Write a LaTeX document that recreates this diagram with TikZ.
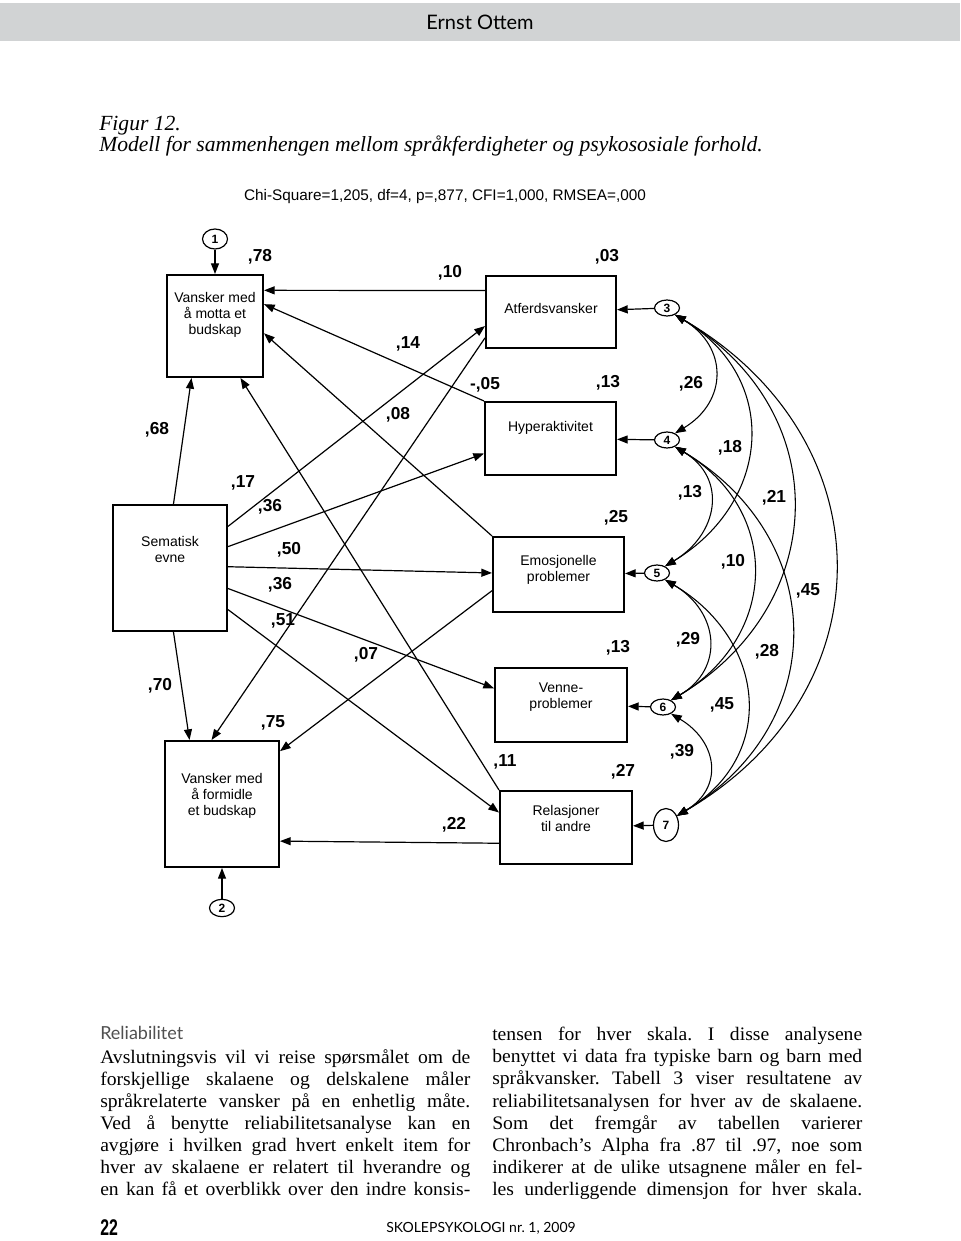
\documentclass[tikz,border=0pt]{standalone}
\usepackage{fontspec}
\usepackage{xcolor}
\usepackage{tikz}
\usetikzlibrary{arrows.meta,shapes.geometric,calc}

\setmainfont{Liberation Serif}
\setsansfont{Liberation Sans}
\newfontfamily\gillfont{Lato}
\newfontfamily\folionum[FakeStretch=0.7]{Liberation Sans}
\newfontfamily\bodyfont[FakeStretch=1.03]{Liberation Serif}
\frenchspacing

\definecolor{bandgray}{RGB}{209,211,212}
\definecolor{headgray}{RGB}{80,80,80}

\tikzset{
	box/.style={draw, line width=1.5pt, inner sep=0pt},
	boxtext/.style={font=\sffamily\fontsize{10.5}{12}\selectfont, align=center, inner sep=0pt},
	coef/.style={font=\sffamily\bfseries\fontsize{13}{13}\selectfont, inner sep=0pt},
	resid/.style={draw, ellipse, line width=0.9pt, inner sep=0pt, minimum width=18.75pt, minimum height=12pt, font=\sffamily\bfseries\fontsize{9}{9}\selectfont},
	regarrow/.style={line width=0.9pt, -{Triangle[length=8pt,width=6pt]}},
	covar/.style={line width=0.8pt, {Triangle[length=8pt,width=6pt]}-{Triangle[length=8pt,width=6pt]}},
	column/.style={anchor=north west, inner sep=0pt, text width=277.5pt, align=justify, font=\bodyfont\fontsize{14.3}{16.6}\selectfont},
}

\begin{document}
\begin{tikzpicture}[x=0.75pt,y=0.75pt,yscale=-1,xscale=1]
	\useasboundingbox (0,0) rectangle (960,1241);
	
	%Page head
	\fill[bandgray] (0,3) rectangle (960,41);
	\node[font=\gillfont\fontsize{15}{15}\selectfont] (author) at (480,22) {Ernst Ottem};
	
	% Text Node
	\node[anchor=north west, inner sep=0pt, align=left, font=\itshape\fontsize{16.2}{15.5}\selectfont] (caption) at (99,116) {Figur 12.\\Modell for sammenhengen mellom språkferdigheter og psykososiale forhold.};
	% Text Node
	\node[font=\sffamily\fontsize{11.5}{11.5}\selectfont] (fit) at (445,197) {Chi-Square=1,205, df=4, p=,877, CFI=1,000, RMSEA=,000};
	
	%Boxes
	\node[box, minimum width=72pt, minimum height=76.5pt] (motta) at (215,326) {};
	\node[box, minimum width=97.5pt, minimum height=54pt] (atferd) at (551,312) {};
	\node[box, minimum width=98.25pt, minimum height=54.75pt] (hyper) at (550.5,438.5) {};
	\node[box, minimum width=85.5pt, minimum height=94.5pt] (sematisk) at (170,568) {};
	\node[box, minimum width=98.25pt, minimum height=56.25pt] (emosjon) at (558.5,574.5) {};
	\node[box, minimum width=99pt, minimum height=55.5pt] (venne) at (561,705) {};
	\node[box, minimum width=99pt, minimum height=54.75pt] (relasjon) at (566,827.5) {};
	\node[box, minimum width=85.5pt, minimum height=94.5pt] (formidle) at (222,804) {};
	
	% Text Node
	\node[boxtext] (mottatxt) at (215,315) {Vansker med\\å motta et\\budskap};
	\node[boxtext] (atferdtxt) at (551,308) {Atferdsvansker};
	\node[boxtext] (hypertxt) at (550.5,428) {Hyperaktivitet};
	\node[boxtext] (sematisktxt) at (170,549) {Sematisk\\evne};
	\node[boxtext] (emosjontxt) at (558.5,570) {Emosjonelle\\problemer};
	\node[boxtext] (vennetxt) at (561,697) {Venne-\\problemer};
	\node[boxtext] (relasjontxt) at (566,818) {Relasjoner\\til andre};
	\node[boxtext] (formidletxt) at (222,796) {Vansker med\\å formidle\\et budskap};
	
	%Residuals
	\node[resid, minimum height=15pt] (e1) at (215,239) {1};
	\node[resid, minimum height=13pt] (e2) at (222,908) {2};
	\node[resid] (e3) at (667,308) {3};
	\node[resid] (e4) at (667,440) {4};
	\node[resid] (e5) at (657,573) {5};
	\node[resid] (e6) at (663,707) {6};
	\node[resid, minimum height=24.75pt] (e7) at (666,825) {7};
	
	%Straight Lines
	\draw[regarrow] (e1) -- (motta);
	\draw[regarrow] (e2) -- (formidle);
	\draw[regarrow] (e3) -- (atferd);
	\draw[regarrow] (e4) -- (hyper);
	\draw[regarrow] (e5) -- (emosjon);
	\draw[regarrow] (e6) -- (venne);
	\draw[regarrow] (e7) -- (relasjon);
	
	%Straight Lines
	\draw[regarrow] ($(sematisk.north west)!0.53!(sematisk.north east)$) -- ($(motta.south west)!0.26!(motta.south east)$);
	\draw[regarrow] ($(sematisk.south west)!0.53!(sematisk.south east)$) -- ($(formidle.north west)!0.22!(formidle.north east)$);
	\draw[regarrow] ($(sematisk.north east)!0.175!(sematisk.south east)$) -- ($(atferd.north west)!0.69!(atferd.south west)$);
	\draw[regarrow] ($(sematisk.north east)!0.333!(sematisk.south east)$) -- ($(hyper.north west)!0.70!(hyper.south west)$);
	\draw[regarrow] ($(sematisk.north east)!0.49!(sematisk.south east)$) -- ($(emosjon.north west)!0.48!(emosjon.south west)$);
	\draw[regarrow] ($(sematisk.north east)!0.66!(sematisk.south east)$) -- ($(venne.north west)!0.28!(venne.south west)$);
	\draw[regarrow] ($(sematisk.north east)!0.825!(sematisk.south east)$) -- ($(relasjon.north west)!0.30!(relasjon.south west)$);
	
	%Straight Lines
	\draw[regarrow] ($(atferd.north west)!0.21!(atferd.south west)$) -- ($(motta.north east)!0.157!(motta.south east)$);
	\draw[regarrow] (hyper.north west) -- ($(motta.north east)!0.29!(motta.south east)$);
	\draw[regarrow] (emosjon.north west) -- ($(motta.north east)!0.57!(motta.south east)$);
	\draw[regarrow] (relasjon.north west) -- ($(motta.south west)!0.76!(motta.south east)$);
	\draw[regarrow] ($(atferd.north west)!0.85!(atferd.south west)$) -- ($(formidle.north west)!0.41!(formidle.north east)$);
	\draw[regarrow] ($(emosjon.north west)!0.71!(emosjon.south west)$) -- ($(formidle.north east)!0.087!(formidle.south east)$);
	\draw[regarrow] ($(relasjon.north west)!0.71!(relasjon.south west)$) -- ($(formidle.north east)!0.79!(formidle.south east)$);
	
	%Curve Lines
	\draw[covar] (e3.-40) .. controls +(53,32) and +(53,-32) .. (e4.40);
	\draw[covar] (e3.-40) .. controls +(106,64) and +(106,-64) .. (e5.40);
	\draw[covar] (e3.-40) .. controls +(160,96) and +(160,-96) .. (e6.40);
	\draw[covar] (e3.-40) .. controls +(212,124) and +(212,-124) .. (e7.40);
	\draw[covar] (e4.-40) .. controls +(53,32) and +(53,-32) .. (e5.40);
	\draw[covar] (e4.-40) .. controls +(107,64) and +(107,-64) .. (e6.40);
	\draw[covar] (e4.-40) .. controls +(154,92) and +(154,-92) .. (e7.40);
	\draw[covar] (e5.-40) .. controls +(54,32) and +(54,-32) .. (e6.40);
	\draw[covar] (e5.-40) .. controls +(101,60) and +(101,-60) .. (e7.40);
	\draw[covar] (e6.-40) .. controls +(47,28) and +(47,-28) .. (e7.40);
	
	% Text Node
	\node[coef] (r78) at (260,257) {,78};
	\node[coef] (w10) at (450,273) {,10};
	\node[coef] (r03) at (607,257) {,03};
	\node[coef] (w14) at (408,344) {,14};
	\node[coef] (w05) at (485,385) {-,05};
	\node[coef] (r13h) at (608,383) {,13};
	\node[coef] (c26) at (691,384) {,26};
	\node[coef] (w08) at (398,415) {,08};
	\node[coef] (w68) at (157,430) {,68};
	\node[coef] (c18) at (730,448) {,18};
	\node[coef] (w17) at (243,483) {,17};
	\node[coef] (w36h) at (270,507) {,36};
	\node[coef] (c13) at (690,493) {,13};
	\node[coef] (c21) at (774,498) {,21};
	\node[coef] (r25) at (616,518) {,25};
	\node[coef] (w50) at (289,550) {,50};
	\node[coef] (c10) at (733,562) {,10};
	\node[coef] (w36v) at (280,585) {,36};
	\node[coef] (c45a) at (808,591) {,45};
	\node[coef] (w51) at (283,621) {,51};
	\node[coef] (w07) at (366,655) {,07};
	\node[coef] (r13v) at (618,648) {,13};
	\node[coef] (c29) at (688,640) {,29};
	\node[coef] (c28) at (767,652) {,28};
	\node[coef] (w70) at (160,686) {,70};
	\node[coef] (c45b) at (722,705) {,45};
	\node[coef] (r75) at (273,723) {,75};
	\node[coef] (w11) at (505,762) {,11};
	\node[coef] (r27) at (623,772) {,27};
	\node[coef] (c39) at (682,752) {,39};
	\node[coef] (w22) at (454,825) {,22};
	
	%Body text
	\node[anchor=west, inner sep=0pt, text=headgray, font=\gillfont\fontsize{13.5}{13.5}\selectfont] (heading) at (100,1033) {Reliabilitet};
	\node[column] (leftcol) at (100,1049) {\noindent Avslutningsvis vil vi reise spørsmålet om de\linebreak forskjellige skalaene og delskalene måler\linebreak språkrelaterte vansker på en enhetlig måte.\linebreak Ved å benytte reliabilitetsanalyse kan en\linebreak avgjøre i hvilken grad hvert enkelt item for\linebreak hver av skalaene er relatert til hverandre og\linebreak en kan få et overblikk over den indre konsis-\linebreak};
	\node[column] (rightcol) at (492,1027) {\noindent tensen for hver skala. I disse analysene\linebreak benyttet vi data fra typiske barn og barn med\linebreak språkvansker. Tabell 3 viser resultatene av\linebreak reliabilitetsanalysen for hver av de skalaene.\linebreak Som det fremgår av tabellen varierer\linebreak Chronbach’s Alpha fra .87 til .97, noe som\linebreak indikerer at de ulike utsagnene måler en fel-\linebreak les underliggende dimensjon for hver skala.\linebreak};
	
	%Page foot
	\node[anchor=west, inner sep=0pt, font=\folionum\bfseries\fontsize{17}{17}\selectfont] (folio) at (100,1228) {22};
	\node[inner sep=0pt, font=\gillfont\fontsize{10.5}{10.5}\selectfont] (journal) at (481,1228) {SKOLEPSYKOLOGI nr. 1, 2009};
	
\end{tikzpicture}
\end{document}
